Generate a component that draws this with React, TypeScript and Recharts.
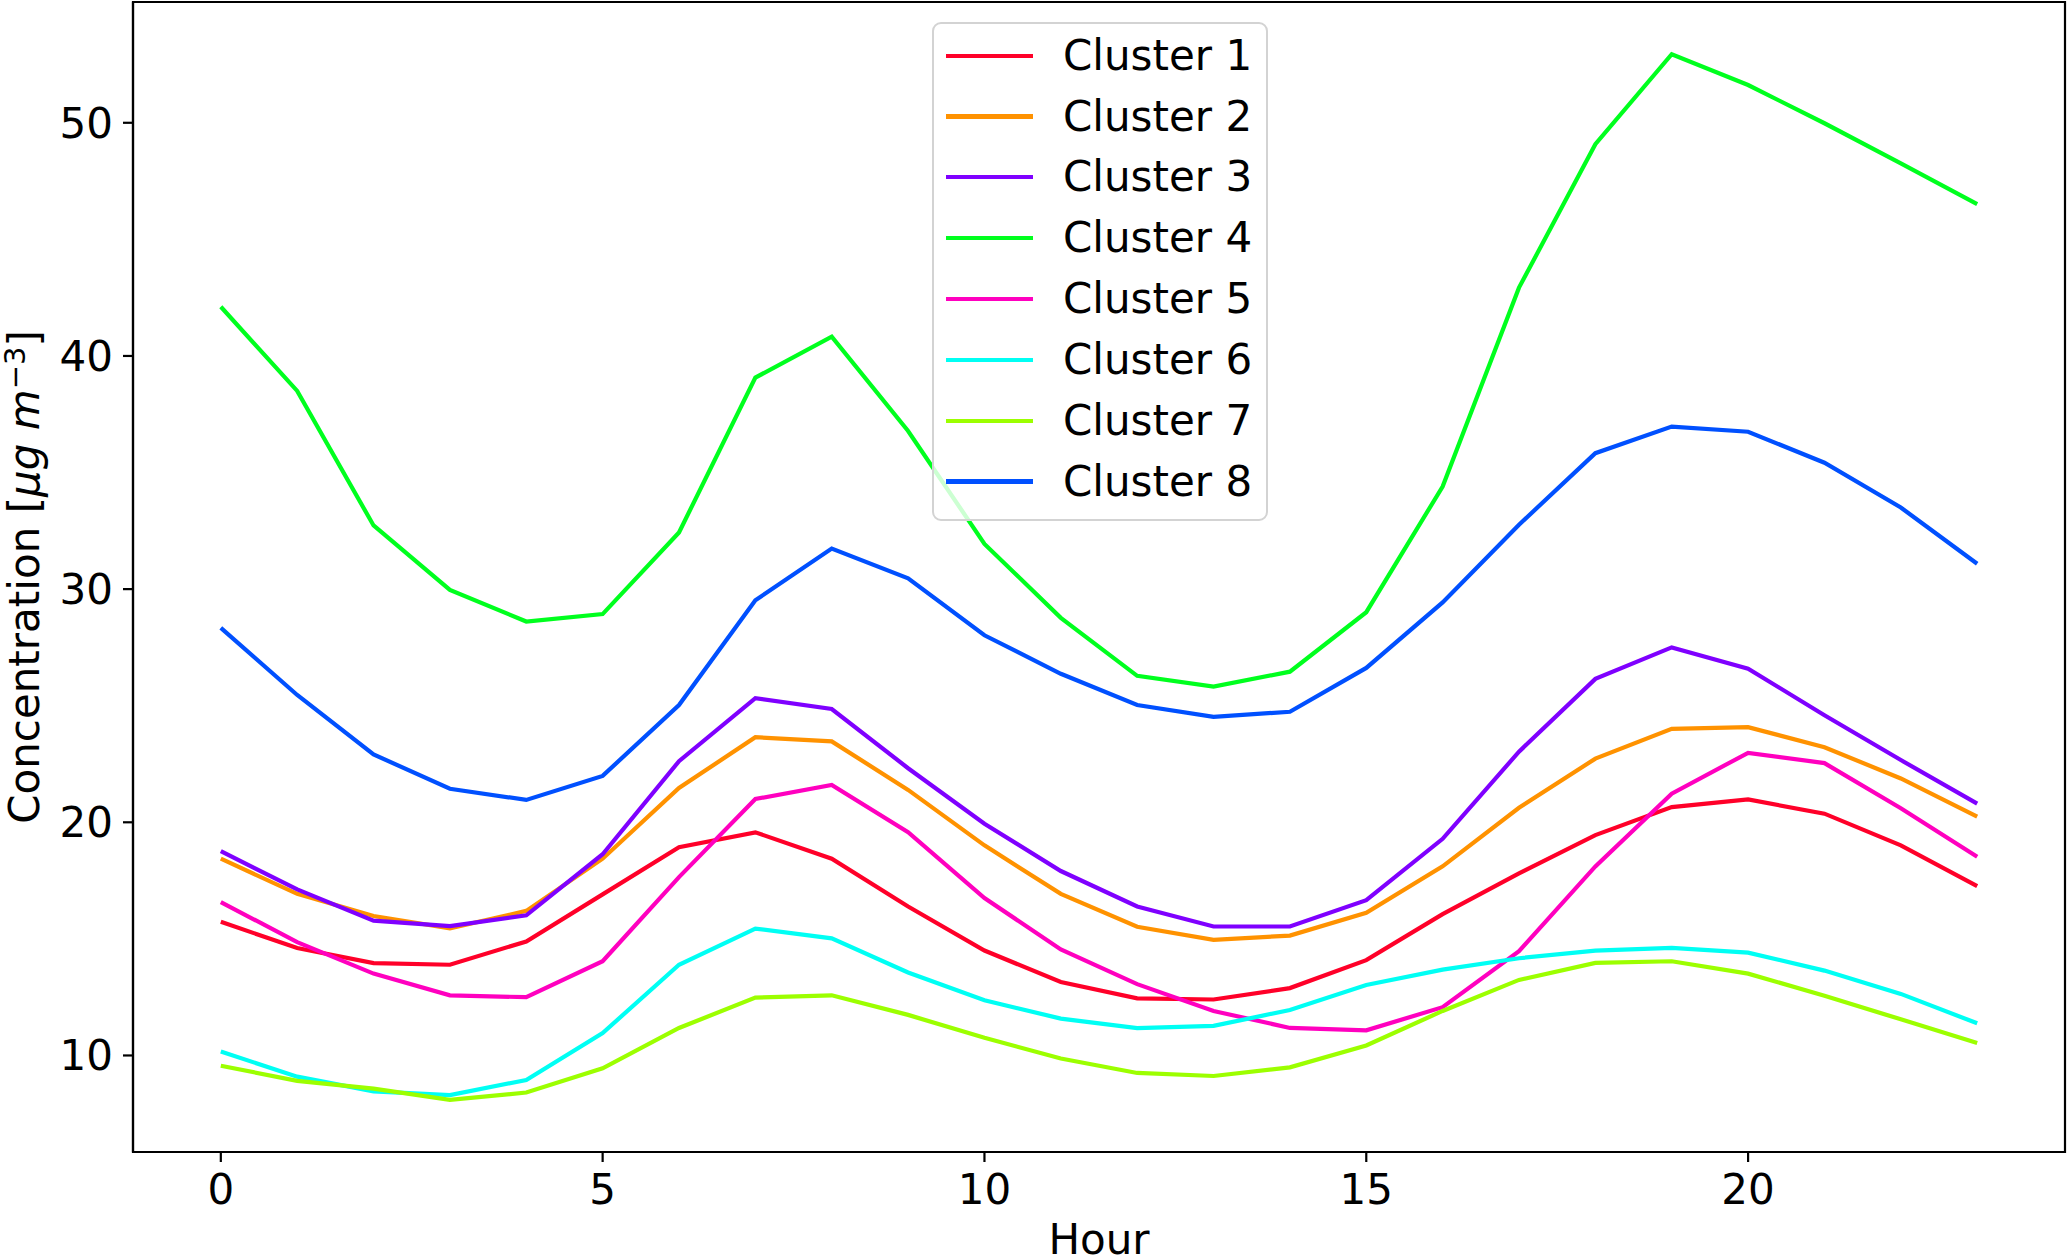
import React from "react";
import { LineChart, Line, XAxis, YAxis, Legend, ReferenceArea } from "recharts";

const hours = Array.from({ length: 24 }, (_, i) => i);

const cluster1 = [15.73, 14.61, 13.96, 13.89, 14.89, 16.91, 18.93, 19.57, 18.44, 16.39, 14.5, 13.15, 12.45, 12.4, 12.89, 14.09, 16.06, 17.81, 19.45, 20.65, 20.98, 20.37, 19.01, 17.26];
const cluster2 = [18.44, 16.93, 15.98, 15.45, 16.2, 18.44, 21.47, 23.65, 23.47, 21.39, 19.01, 16.93, 15.52, 14.96, 15.14, 16.12, 18.11, 20.62, 22.73, 24.01, 24.08, 23.22, 21.88, 20.24];
const cluster3 = [18.76, 17.12, 15.78, 15.55, 16.01, 18.63, 22.62, 25.32, 24.86, 22.32, 19.94, 17.91, 16.39, 15.53, 15.53, 16.66, 19.29, 23.03, 26.15, 27.5, 26.59, 24.59, 22.67, 20.8];
const cluster4 = [42.11, 38.5, 32.73, 29.97, 28.61, 28.93, 32.43, 39.07, 40.83, 36.78, 31.94, 28.77, 26.28, 25.82, 26.46, 29.01, 34.4, 42.93, 49.08, 52.94, 51.62, 49.98, 48.26, 46.51];
const cluster5 = [16.58, 14.86, 13.51, 12.58, 12.5, 14.04, 17.65, 21.0, 21.6, 19.58, 16.75, 14.55, 13.06, 11.91, 11.18, 11.08, 12.07, 14.47, 18.11, 21.23, 22.98, 22.54, 20.6, 18.52];
const cluster6 = [10.17, 9.09, 8.46, 8.3, 8.95, 10.96, 13.89, 15.44, 15.02, 13.56, 12.37, 11.58, 11.17, 11.27, 11.95, 13.02, 13.68, 14.17, 14.5, 14.61, 14.41, 13.64, 12.64, 11.38];
const cluster7 = [9.56, 8.91, 8.58, 8.1, 8.41, 9.45, 11.18, 12.48, 12.58, 11.74, 10.76, 9.87, 9.25, 9.12, 9.49, 10.43, 11.91, 13.24, 13.97, 14.04, 13.51, 12.56, 11.55, 10.53];
const cluster8 = [28.34, 25.46, 22.91, 21.44, 20.96, 21.99, 25.03, 29.52, 31.74, 30.46, 28.02, 26.37, 25.03, 24.52, 24.74, 26.62, 29.43, 32.76, 35.83, 36.97, 36.75, 35.42, 33.5, 31.09];

const seriesNames = ["Cluster 1", "Cluster 2", "Cluster 3", "Cluster 4", "Cluster 5", "Cluster 6", "Cluster 7", "Cluster 8"];
const seriesColors = ["#ff0029", "#ff9200", "#7f00ff", "#00ff1e", "#ff00bf", "#00fff4", "#9cff00", "#0050ff"];
const seriesValues = [cluster1, cluster2, cluster3, cluster4, cluster5, cluster6, cluster7, cluster8];

const xTicks = [0, 5, 10, 15, 20];
const yTicks = [10, 20, 30, 40, 50];

const data = hours.map((h, i) => {
  const row: Record<string, number> = { hour: h };
  seriesValues.forEach((vals, k) => {
    row["c" + (k + 1)] = vals[i];
  });
  return row;
});

const FONT = "'DejaVu Sans', sans-serif";
const X_DOMAIN: [number, number] = [-1.15, 24.15];
const Y_DOMAIN: [number, number] = [5.86, 55.18];

function LegendBox(props: any) {
  const payload = props.payload || [];
  return (
    <div
      style={{
        position: "relative",
        width: 336,
        height: 499,
        boxSizing: "border-box",
        border: "2.2px solid #d3d3d3",
        borderRadius: 9,
        background: "rgba(255,255,255,0.8)",
        fontFamily: FONT,
      }}
    >
      {payload.map((entry: any, i: number) => {
        const cy = 31.7 + i * 60.84;
        return (
          <div key={entry.value}>
            <div
              style={{
                position: "absolute",
                left: 11.5,
                top: cy - 2.1,
                width: 87,
                height: 4.2,
                background: entry.color,
              }}
            />
            <span
              style={{
                position: "absolute",
                left: 129,
                top: cy - 21,
                fontSize: 42,
                lineHeight: "42px",
                color: "#000",
                whiteSpace: "nowrap",
              }}
            >
              {entry.value}
            </span>
          </div>
        );
      })}
    </div>
  );
}

function YLabel(props: any) {
  const vb = props.viewBox || { x: 0, y: 2, width: 133, height: 1150 };
  const cx = 38.5;
  const cy = vb.y + vb.height / 2;
  return (
    <text
      x={cx}
      y={cy}
      transform={`rotate(-90, ${cx}, ${cy})`}
      textAnchor="middle"
      fontFamily={FONT}
      fontSize={42}
      fill="#000"
    >
      <tspan>Concentration [</tspan>
      <tspan fontStyle="italic">μg m</tspan>
      <tspan fontSize={29} dy={-14}>
        −3
      </tspan>
      <tspan dy={14}>]</tspan>
    </text>
  );
}

function XLabel(props: any) {
  const vb = props.viewBox || { x: 133, y: 1152, width: 1932, height: 103 };
  return (
    <text x={vb.x + vb.width / 2} y={1254} textAnchor="middle" fontFamily={FONT} fontSize={42} fill="#000">
      Hour
    </text>
  );
}

export default function App() {
  return (
    <div style={{ position: "absolute", left: 0, top: 0, width: 2067, height: 1255, background: "#fff", fontFamily: FONT }}>
      <LineChart width={2067} height={1255} data={data} margin={{ top: 2, right: 2, bottom: 0, left: 0 }}>
        <XAxis
          dataKey="hour"
          type="number"
          domain={X_DOMAIN}
          ticks={xTicks}
          allowDataOverflow
          height={103}
          tickSize={10}
          tickMargin={12}
          axisLine={{ stroke: "#000", strokeWidth: 2.2 }}
          tickLine={{ stroke: "#000", strokeWidth: 2.2 }}
          tick={{ fontSize: 42, fill: "#000", fontFamily: FONT }}
          label={{ content: XLabel }}
        />
        <YAxis
          type="number"
          domain={Y_DOMAIN}
          ticks={yTicks}
          allowDataOverflow
          width={133}
          tickSize={10}
          tickMargin={10}
          axisLine={{ stroke: "#000", strokeWidth: 2.2 }}
          tickLine={{ stroke: "#000", strokeWidth: 2.2 }}
          tick={{ fontSize: 42, fill: "#000", fontFamily: FONT }}
          label={{ content: YLabel }}
        />
        {seriesNames.map((name, k) => (
          <Line
            key={name}
            type="linear"
            dataKey={"c" + (k + 1)}
            name={name}
            stroke={seriesColors[k]}
            strokeWidth={4.2}
            dot={false}
            activeDot={false}
            isAnimationActive={false}
          />
        ))}
        <ReferenceArea
          x1={X_DOMAIN[0]}
          x2={X_DOMAIN[1]}
          y1={Y_DOMAIN[0]}
          y2={Y_DOMAIN[1]}
          fill="none"
          stroke="#000"
          strokeWidth={2.2}
          ifOverflow="visible"
        />
        <Legend
          layout="vertical"
          align="center"
          verticalAlign="middle"
          content={LegendBox}
          wrapperStyle={{ left: 932, top: 22, width: 336, height: 499 }}
        />
      </LineChart>
    </div>
  );
}
